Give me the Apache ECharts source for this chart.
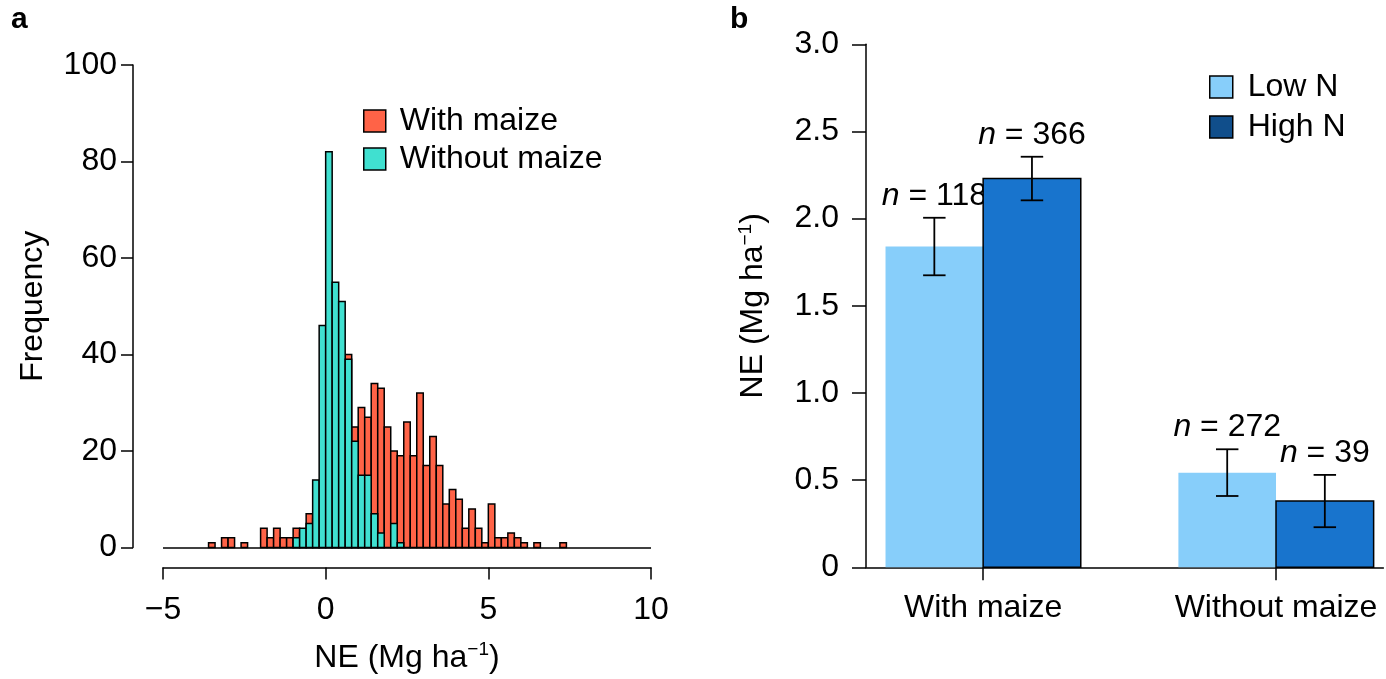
<!DOCTYPE html>
<html>
<head>
<meta charset="utf-8">
<script src="https://cdn.jsdelivr.net/npm/echarts@6/dist/echarts.min.js"></script>
<style>
  html, body { margin: 0; padding: 0; background: #ffffff; }
  #chart { width: 1386px; height: 679px; }
</style>
</head>
<body>
<div id="chart"></div>
<script>
// ---- Panel a: frequency of NE, 0.2 Mg/ha bins (left edge of each bin) ----
const binStarts = [
  -3.6, -3.4, -3.2, -3.0, -2.8, -2.6, -2.4, -2.2, -2.0, -1.8,
  -1.6, -1.4, -1.2, -1.0, -0.8, -0.6, -0.4, -0.2, 0.0, 0.2,
  0.4, 0.6, 0.8, 1.0, 1.2, 1.4, 1.6, 1.8, 2.0, 2.2,
  2.4, 2.6, 2.8, 3.0, 3.2, 3.4, 3.6, 3.8, 4.0, 4.2,
  4.4, 4.6, 4.8, 5.0, 5.2, 5.4, 5.6, 5.8, 6.0, 6.2,
  6.4, 6.6, 6.8, 7.0, 7.2
];
const withMaizeCounts = [
  1, 0, 2, 2, 0, 1, 0, 0, 4, 2,
  4, 2, 2, 4, 3, 7, 6, 10, 14, 20,
  28, 40, 25, 29, 27, 34, 33, 25, 20, 19,
  26, 19, 32, 17, 23, 17, 9, 12, 10, 4,
  8, 4, 1, 9, 2, 2, 3, 2, 1, 0,
  1, 0, 0, 0, 1
];
const withoutMaizeCounts = [
  0, 0, 0, 0, 0, 0, 0, 0, 0, 0,
  0, 0, 0, 2, 4, 5, 14, 46, 82, 55,
  51, 39, 22, 15, 15, 7, 3, 0, 5, 1,
  0, 0, 0, 0, 0, 0, 0, 0, 0, 0,
  0, 0, 0, 0, 0, 0, 0, 0, 0, 0,
  0, 0, 0, 0, 0
];
const binWidth = 0.2;

// ---- Panel b: mean NE with standard error, by N level ----
const groups = ['With maize', 'Without maize'];
const lowNMean = [1.84, 0.543];
const lowNErr = [0.165, 0.134];
const lowNCount = [118, 272];
const highNMean = [2.23, 0.38];
const highNErr = [0.125, 0.15];
const highNCount = [366, 39];

const FONT = '"Liberation Sans", Arial, Helvetica, sans-serif';
const INK = '#000000';
const RED = '#FF6347';
const TEAL = '#40E0D0';
const LOW = '#87CEFA';
const HIGH = '#1874CD';
const HIGH_KEY = '#104E8B';
const FS = 32;

const neName = 'NE (Mg ha{sup|\u22121})';
const neRich = {
  sup: { fontSize: 19, fontFamily: FONT, color: INK, padding: [0, 0, 16, 0] }
};

function histItem(color) {
  return function (params, api) {
    const n = api.value(2);
    if (!n) return null;
    const p0 = api.coord([api.value(0), n]);
    const p1 = api.coord([api.value(1), 0]);
    return {
      type: 'rect',
      shape: { x: p0[0], y: p0[1], width: p1[0] - p0[0], height: p1[1] - p0[1] },
      style: { fill: color, stroke: INK, lineWidth: 1.5 }
    };
  };
}

// each group has two unit-wide bars: Low N left of the group centre, High N right of it
function groupCentre(i) { return 2 + 3 * i; }

function barItem(color, side, outlined) {
  return function (params, api) {
    const i = api.value(0), mean = api.value(1), err = api.value(2), n = api.value(3);
    const c = groupCentre(i);
    const left = side < 0 ? c - 1 : c;
    const p0 = api.coord([left, mean]);
    const p1 = api.coord([left + 1, 0]);
    const mid = left + 0.5;
    const top = api.coord([mid, mean + err]);
    const bot = api.coord([mid, mean - err]);
    const capL = api.coord([mid - 0.115, 0])[0];
    const capR = api.coord([mid + 0.115, 0])[0];
    const lineStyle = { stroke: INK, lineWidth: 1.8 };
    return {
      type: 'group',
      children: [
        {
          type: 'rect',
          shape: { x: p0[0], y: p0[1], width: p1[0] - p0[0], height: p1[1] - p0[1] },
          style: outlined ? { fill: color, stroke: INK, lineWidth: 1.5 } : { fill: color }
        },
        { type: 'line', shape: { x1: top[0], y1: top[1], x2: bot[0], y2: bot[1] }, style: lineStyle },
        { type: 'line', shape: { x1: capL, y1: top[1], x2: capR, y2: top[1] }, style: lineStyle },
        { type: 'line', shape: { x1: capL, y1: bot[1], x2: capR, y2: bot[1] }, style: lineStyle },
        {
          type: 'text',
          x: top[0], y: top[1] - 6,
          style: {
            text: '{i|n} = ' + n,
            fontSize: FS, fontFamily: FONT, fill: INK,
            align: 'center', verticalAlign: 'bottom',
            rich: { i: { fontStyle: 'italic', fontSize: FS, fontFamily: FONT, fill: INK } }
          }
        }
      ]
    };
  };
}

const axisLineStyle = { color: INK, width: 1.5 };
const labelStyle = { color: INK, fontSize: FS, fontFamily: FONT };

const option = {
  backgroundColor: '#ffffff',
  animation: false,
  title: [
    { text: 'a', left: 11, top: 5, padding: 0, textStyle: { fontSize: 30, fontWeight: 'bold', fontFamily: FONT, color: INK } },
    { text: 'b', left: 730, top: 5, padding: 0, textStyle: { fontSize: 30, fontWeight: 'bold', fontFamily: FONT, color: INK } }
  ],
  legend: [
    {
      orient: 'vertical', left: 363, top: 105, padding: 0,
      itemWidth: 22, itemHeight: 22, itemGap: 6, icon: 'rect',
      selectedMode: false,
      itemStyle: { borderColor: INK, borderWidth: 1.5 },
      textStyle: { color: INK, fontSize: FS, fontFamily: FONT, padding: [0, 0, 0, 9] },
      data: ['With maize', 'Without maize']
    },
    {
      orient: 'vertical', left: 1209, top: 71, padding: 0,
      itemWidth: 23, itemHeight: 22, itemGap: 8, icon: 'rect',
      selectedMode: false,
      itemStyle: { borderColor: INK, borderWidth: 1.5 },
      textStyle: { color: INK, fontSize: FS, fontFamily: FONT, padding: [0, 0, 0, 10] },
      data: [
        { name: 'Low N', itemStyle: { color: LOW } },
        { name: 'High N', itemStyle: { color: HIGH_KEY } }
      ]
    }
  ],
  grid: [
    { left: 163, top: 65, width: 488, height: 483 },
    { left: 866, top: 44.3, width: 517.4, height: 523 }
  ],
  xAxis: [
    {
      gridIndex: 0, type: 'value', min: -5, max: 10, interval: 5, offset: 20,
      axisLine: { show: true, onZero: false, lineStyle: axisLineStyle },
      axisTick: { show: true, length: 12, lineStyle: axisLineStyle },
      axisLabel: Object.assign({}, labelStyle, {
        margin: 27,
        formatter: function (v) { return v < 0 ? '\u2212' + Math.abs(v) : String(v); }
      }),
      splitLine: { show: false },
      name: neName, nameLocation: 'middle', nameGap: 73,
      nameTextStyle: Object.assign({}, labelStyle, { rich: neRich })
    },
    {
      gridIndex: 1, type: 'value', min: 0.8, max: 6.1,
      axisLine: { show: true, onZero: false, lineStyle: axisLineStyle },
      axisTick: { show: true, length: 13, customValues: [groupCentre(0), groupCentre(1)], lineStyle: axisLineStyle },
      axisLabel: Object.assign({}, labelStyle, {
        margin: 25,
        customValues: [groupCentre(0), groupCentre(1)],
        formatter: function (v) { return groups[Math.round((v - 2) / 3)]; }
      }),
      splitLine: { show: false }
    }
  ],
  yAxis: [
    {
      gridIndex: 0, type: 'value', min: 0, max: 100, interval: 20, offset: 30,
      axisLine: { show: true, onZero: false, lineStyle: axisLineStyle },
      axisTick: { show: true, length: 12, lineStyle: axisLineStyle },
      axisLabel: Object.assign({}, labelStyle, { margin: 16 }),
      splitLine: { show: false },
      name: 'Frequency', nameLocation: 'middle', nameGap: 84,
      nameTextStyle: labelStyle
    },
    {
      gridIndex: 1, type: 'value', min: 0, max: 3, interval: 0.5,
      axisLine: { show: true, onZero: false, lineStyle: axisLineStyle },
      axisTick: { show: true, length: 14, lineStyle: axisLineStyle },
      axisLabel: Object.assign({}, labelStyle, {
        margin: 27,
        formatter: function (v) { return v === 0 ? '0' : v.toFixed(1); }
      }),
      splitLine: { show: false },
      name: neName, nameLocation: 'middle', nameGap: 95,
      nameTextStyle: Object.assign({}, labelStyle, { rich: neRich })
    }
  ],
  series: [
    {
      name: 'With maize', type: 'custom', xAxisIndex: 0, yAxisIndex: 0,
      itemStyle: { color: RED },
      renderItem: histItem(RED),
      encode: { x: [0, 1], y: 2 },
      data: binStarts.map(function (s, i) { return [s, s + binWidth, withMaizeCounts[i]]; }),
      markLine: {
        silent: true, symbol: 'none', label: { show: false },
        lineStyle: { color: INK, width: 1.5, type: 'solid' },
        data: [{ yAxis: 0 }]
      }
    },
    {
      name: 'Without maize', type: 'custom', xAxisIndex: 0, yAxisIndex: 0,
      itemStyle: { color: TEAL },
      renderItem: histItem(TEAL),
      encode: { x: [0, 1], y: 2 },
      data: binStarts.map(function (s, i) { return [s, s + binWidth, withoutMaizeCounts[i]]; })
    },
    {
      name: 'Low N', type: 'custom', xAxisIndex: 1, yAxisIndex: 1,
      itemStyle: { color: LOW },
      renderItem: barItem(LOW, -1, false),
      data: groups.map(function (g, i) { return [i, lowNMean[i], lowNErr[i], lowNCount[i]]; })
    },
    {
      name: 'High N', type: 'custom', xAxisIndex: 1, yAxisIndex: 1,
      itemStyle: { color: HIGH },
      renderItem: barItem(HIGH, 1, true),
      data: groups.map(function (g, i) { return [i, highNMean[i], highNErr[i], highNCount[i]]; })
    }
  ]
};

const chart = echarts.init(document.getElementById('chart'), null, { renderer: 'canvas' });
chart.setOption(option);
</script>
</body>
</html>
